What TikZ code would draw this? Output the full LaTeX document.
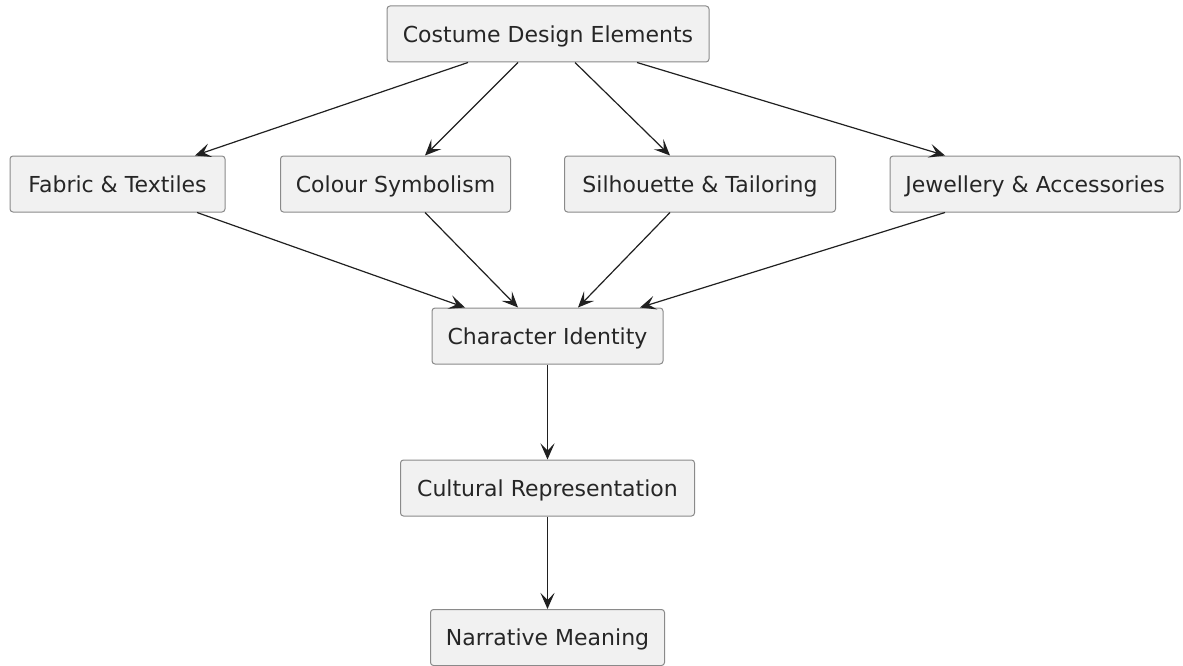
\documentclass[tikz,border=0pt]{standalone}
\usepackage{fontspec}
\setmainfont{DejaVu Sans}
\usetikzlibrary{arrows.meta,calc}
\definecolor{boxfill}{HTML}{F1F1F1}
\definecolor{boxline}{HTML}{8A8A8A}
\definecolor{edge}{HTML}{202020}
\tikzset{
  box/.style={draw=boxline, fill=boxfill, line width=1pt, rounded corners=3pt,
    minimum height=56pt, inner sep=0pt, text depth=0pt, font=\fontsize{22}{25}\selectfont, text=black!85},
  conn/.style={draw=edge, line width=1.2pt, -{Stealth[length=16pt,width=14pt,inset=7pt]}}
}
\begin{document}
\begin{tikzpicture}[x=1pt,y=-1pt]
\useasboundingbox (0,0) rectangle (1183,666);
\node[box, minimum width=322pt] (top) at (548,34) {Costume Design Elements};
\node[box, minimum width=215pt] (fab) at (117.5,184) {Fabric \& Textiles};
\node[box, minimum width=230pt] (col) at (395.5,184) {Colour Symbolism};
\node[box, minimum width=271pt] (sil) at (700,184) {Silhouette \& Tailoring};
\node[box, minimum width=290pt] (jew) at (1035,184) {Jewellery \& Accessories};
\node[box, minimum width=231pt] (chr) at (547.5,336) {Character Identity};
\node[box, minimum width=294pt] (cul) at (547.5,488) {Cultural Representation};
\node[box, minimum width=234pt] (nar) at (547.5,637.5) {Narrative Meaning};

\draw[conn] ([xshift=-80pt]top.south) -- ([xshift=77.5pt]fab.north);
\draw[conn] ([xshift=-30pt]top.south) -- ([xshift=29.5pt]col.north);
\draw[conn] ([xshift=27pt]top.south) -- ([xshift=-30pt]sil.north);
\draw[conn] ([xshift=89pt]top.south) -- ([xshift=-90pt]jew.north);

\draw[conn] ([xshift=79.5pt]fab.south) -- ([xshift=-82.5pt]chr.north);
\draw[conn] ([xshift=29.5pt]col.south) -- ([xshift=-29.5pt]chr.north);
\draw[conn] ([xshift=-30pt]sil.south) -- ([xshift=30.5pt]chr.north);
\draw[conn] ([xshift=-90pt]jew.south) -- ([xshift=92.5pt]chr.north);

\draw[conn] (chr) -- (cul);
\draw[conn] (cul) -- (nar);
\end{tikzpicture}
\end{document}
